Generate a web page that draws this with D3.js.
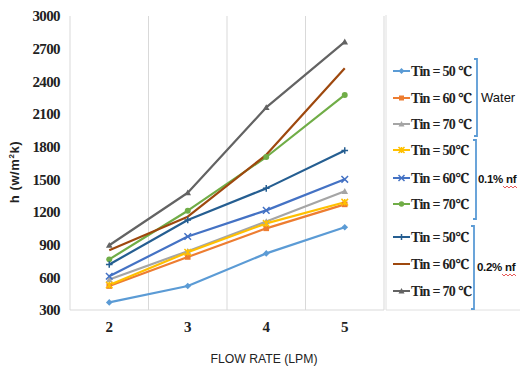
<!DOCTYPE html>
<html><head><meta charset="utf-8">
<script src="https://cdn.jsdelivr.net/npm/d3@7"></script>
<style>body{margin:0;background:#fff;} svg{display:block;}
svg text.serif{font-family:'Liberation Serif','Times New Roman',Tinos,'Noto Serif','DejaVu Serif',serif;}
</style>
</head><body>
<svg id="c" width="520" height="371"></svg>
<script>
const categories = ["2","3","4","5"];
const yTicks = [300,600,900,1200,1500,1800,2100,2400,2700,3000];
const seriesNames = ["Tin = 50 \u2103","Tin = 60 \u2103","Tin = 70 \u2103","Tin = 50\u2103","Tin = 60\u2103","Tin = 70\u2103","Tin = 50\u2103","Tin = 60\u2103","Tin = 70 \u2103"];
const water50 = [370, 520, 820, 1060];
const water60 = [520, 787, 1050, 1270];
const water70 = [580, 840, 1112, 1390];
const nf1_50 = [530, 830, 1095, 1290];
const nf1_60 = [610, 975, 1215, 1500];
const nf1_70 = [765, 1212, 1705, 2275];
const nf2_50 = [718, 1126, 1417, 1765];
const nf2_60 = [848, 1157, 1725, 2520];
const nf2_70 = [895, 1377, 2160, 2763];
const groups = ["Water","0.1% nf","0.2% nf"];

const values = [water50, water60, water70, nf1_50, nf1_60, nf1_70, nf2_50, nf2_60, nf2_70];
const colors = ["#5B9BD5","#ED7D31","#A5A5A5","#FFC000","#4472C4","#70AD47","#255E91","#9E480E","#636363"];
const markers = ["diamond","square","triangle","star","cross","circle","plus","none","triangle"];

const svg = d3.select("#c");
const pLeft = 70, pRight = 384, pTop = 16, pBottom = 310;
const x = d3.scaleBand().domain(categories).range([pLeft, pRight]);
const y = d3.scaleLinear().domain([300, 3000]).range([pBottom, pTop]);

const gl = svg.append("g");
[pLeft, ...categories.map(c => x(c) + x.bandwidth())].forEach((gx) => {
  gl.append("line").attr("x1", gx).attr("x2", gx).attr("y1", pTop).attr("y2", pBottom)
    .attr("stroke", "#d9d9d9").attr("stroke-width", 1);
});
svg.append("line").attr("x1", pLeft).attr("x2", pRight).attr("y1", pBottom).attr("y2", pBottom)
  .attr("stroke", "#d9d9d9").attr("stroke-width", 1);

const ya = svg.append("g").attr("transform", `translate(${pLeft - 10},0)`)
  .call(d3.axisLeft(y).tickValues(yTicks).tickSize(0).tickPadding(0).tickFormat(d3.format("d")));
ya.attr("font-family", null).attr("font-size", null);
ya.select(".domain").remove();
ya.selectAll("text").attr("class", "serif").style("font-size", "15px").style("font-weight", "bold")
  .attr("fill", "#222").attr("letter-spacing", "-0.6");

const xa = svg.append("g").attr("transform", `translate(0,${pBottom + 17})`)
  .call(d3.axisBottom(x).tickSize(0).tickPadding(0));
xa.attr("font-family", null).attr("font-size", null);
xa.select(".domain").remove();
xa.selectAll("text").attr("class", "serif").style("font-size", "15px").style("font-weight", "bold")
  .attr("fill", "#222").attr("dy", "0.3em");

svg.append("text").attr("transform", "translate(19,172) rotate(-90)").attr("text-anchor", "middle")
  .attr("font-family", "Liberation Sans").attr("font-weight", "bold").attr("font-size", 13).attr("fill", "#222")
  .attr("letter-spacing", "0.6")
  .html('h (w/m<tspan dy="-5" font-size="8">2</tspan><tspan dy="5">k)</tspan>');
svg.append("text").attr("x", 264).attr("y", 363).attr("text-anchor", "middle")
  .attr("font-family", "Liberation Sans").attr("font-size", 12.5).attr("fill", "#222")
  .attr("textLength", 107).attr("lengthAdjust", "spacingAndGlyphs")
  .text("FLOW RATE (LPM)");

function drawMarker(g, type, cx, cy, color, s) {
  s = s || 4;
  if (type === "diamond") g.append("path").attr("d", `M${cx},${cy-s}L${cx+s},${cy}L${cx},${cy+s}L${cx-s},${cy}Z`).attr("fill", color);
  else if (type === "square") g.append("rect").attr("x", cx-s+0.5).attr("y", cy-s+0.5).attr("width", 2*s-1).attr("height", 2*s-1).attr("fill", color);
  else if (type === "triangle") g.append("path").attr("d", `M${cx},${cy-s}L${cx+s},${cy+s*0.8}L${cx-s},${cy+s*0.8}Z`).attr("fill", color);
  else if (type === "circle") g.append("circle").attr("cx", cx).attr("cy", cy).attr("r", s*0.9).attr("fill", color);
  else if (type === "cross") g.append("path").attr("d", `M${cx-s},${cy-s}L${cx+s},${cy+s}M${cx-s},${cy+s}L${cx+s},${cy-s}`).attr("stroke", color).attr("stroke-width", 1.5);
  else if (type === "star") g.append("path").attr("d", `M${cx-s},${cy-s}L${cx+s},${cy+s}M${cx-s},${cy+s}L${cx+s},${cy-s}M${cx},${cy-s}L${cx},${cy+s}`).attr("stroke", color).attr("stroke-width", 1.5);
  else if (type === "plus") g.append("path").attr("d", `M${cx},${cy-s}L${cx},${cy+s}M${cx-s},${cy}L${cx+s},${cy}`).attr("stroke", color).attr("stroke-width", 1.5);
}

const line = d3.line().x((d, i) => x(categories[i]) + x.bandwidth() / 2).y(d => y(d));
const plot = svg.append("g");
values.forEach((vals, si) => {
  plot.append("path").datum(vals).attr("d", line).attr("fill", "none")
    .attr("stroke", colors[si]).attr("stroke-width", 2.2).attr("stroke-linejoin", "round");
});
values.forEach((vals, si) => {
  vals.forEach((v, i) => drawMarker(plot, markers[si], x(categories[i]) + x.bandwidth() / 2, y(v), colors[si], 3.3));
});

svg.append("path").attr("d", "M386,15L386,310L520,310").attr("fill", "none").attr("stroke", "#e0e0e0");

const legY = [71, 98, 124, 150, 178, 204, 237, 264, 291];
const leg = svg.append("g");
seriesNames.forEach((name, i) => {
  const ly = legY[i];
  leg.append("line").attr("x1", 393).attr("x2", 410).attr("y1", ly).attr("y2", ly)
    .attr("stroke", colors[i]).attr("stroke-width", 2);
  drawMarker(leg, markers[i], 401.5, ly, colors[i], 3);
  leg.append("text").attr("x", 411).attr("y", ly + 5).attr("class", "serif")
    .style("font-size", "14px").style("font-weight", "bold").attr("fill", "#222").attr("letter-spacing", "-0.7")
    .text(name);
});

const br = [
  {x: 477, y1: 59, y2: 136, ty: 102, tx: 481, fs: 13},
  {x: 476, y1: 140, y2: 219, ty: 183, tx: 478, fs: 11.5},
  {x: 474, y1: 226, y2: 309, ty: 271, tx: 477, fs: 11.5}
];
br.forEach((b, i) => {
  svg.append("path").attr("d", `M${b.x-3},${b.y1}L${b.x},${b.y1}L${b.x},${b.y2}L${b.x-3},${b.y2}`)
    .attr("fill", "none").attr("stroke", "#5B9BD5").attr("stroke-width", 1.8);
  svg.append("text").attr("x", b.tx).attr("y", b.ty).attr("font-family", "Liberation Sans")
    .attr("font-size", b.fs).attr("font-weight", i === 0 ? "normal" : "bold").attr("fill", "#111")
    .attr("letter-spacing", i === 0 ? "0" : "-0.3")
    .text(groups[i]);
});
[[183, 503], [271, 502]].forEach(([ty, sx]) => {
  let d = `M${sx},${ty + 3}`;
  for (let k = 0; k < 7; k++) d += `l2,${k % 2 ? -2 : 2}`;
  svg.append("path").attr("d", d).attr("fill", "none").attr("stroke", "#e03030").attr("stroke-width", 0.8);
});
</script>
</body></html>
